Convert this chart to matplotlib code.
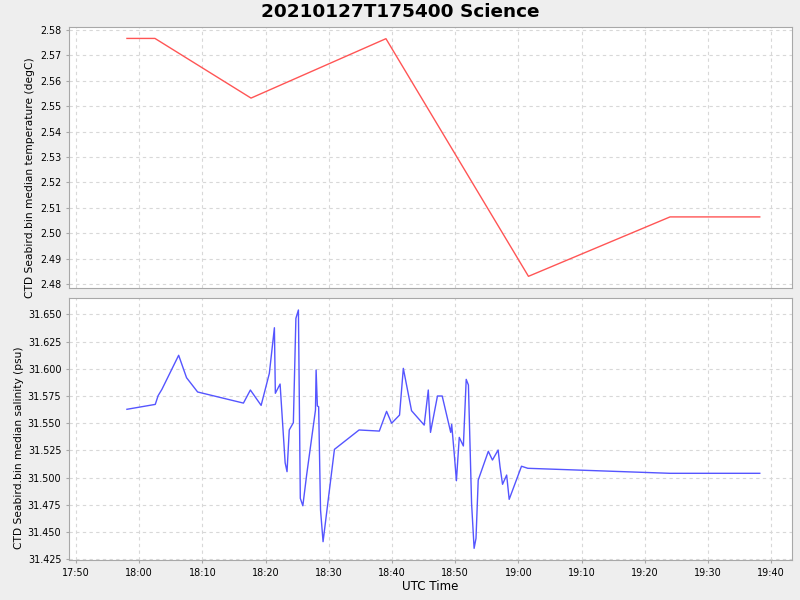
import numpy as np
import pandas as pd
import matplotlib
matplotlib.use("Agg")
import matplotlib.pyplot as plt
import matplotlib.dates as mdates
from matplotlib.ticker import MultipleLocator, FormatStrFormatter

day = "2021-01-27 "

# temperature vertices (UTC time, degC)
temp_time = ["17:58:04", "18:02:30", "18:17:42", "18:39:03", "19:01:36",
             "19:24:00", "19:38:12"]
temp_vals = [2.5767, 2.5767, 2.5532, 2.5766, 2.4830, 2.5064, 2.5064]

# salinity vertices (UTC time, psu)
sal_time = ["17:58:04", "18:02:33", "18:03:00", "18:03:36", "18:06:15", "18:07:30",
            "18:09:15", "18:16:30", "18:17:36", "18:19:18", "18:20:36", "18:21:24",
            "18:21:33", "18:22:18", "18:23:06", "18:23:24", "18:23:45", "18:24:24",
            "18:24:48", "18:25:12", "18:25:30", "18:25:54", "18:26:30", "18:27:54",
            "18:28:00", "18:28:12", "18:28:24", "18:28:42", "18:29:06", "18:30:54",
            "18:34:48", "18:38:00", "18:39:09", "18:39:57", "18:41:12", "18:41:48",
            "18:43:06", "18:45:06", "18:45:45", "18:46:06", "18:47:12", "18:47:57",
            "18:49:18", "18:49:27", "18:49:51", "18:50:12", "18:50:39", "18:51:18",
            "18:51:45", "18:52:06", "18:52:36", "18:53:00", "18:53:18", "18:53:39",
            "18:55:15", "18:55:54", "18:56:48", "18:57:06", "18:57:30", "18:58:09",
            "18:58:33", "19:00:30", "19:01:30", "19:24:00", "19:38:12"]
sal_vals = [31.5628, 31.5673, 31.5753, 31.5811, 31.6124, 31.5918,
            31.5787, 31.5685, 31.5805, 31.5664, 31.5958, 31.6377,
            31.5775, 31.5860, 31.5137, 31.5055, 31.5438, 31.5505,
            31.6463, 31.6540, 31.4810, 31.4742, 31.5024, 31.5621,
            31.5989, 31.5658, 31.5652, 31.4703, 31.4412, 31.5260,
            31.5438, 31.5428, 31.5609, 31.5500, 31.5575, 31.6004,
            31.5615, 31.5483, 31.5805, 31.5416, 31.5750, 31.5750,
            31.5416, 31.5490, 31.5224, 31.4972, 31.5370, 31.5291,
            31.5903, 31.5851, 31.4764, 31.4351, 31.4443, 31.4978,
            31.5242, 31.5162, 31.5254, 31.5100, 31.4939, 31.5024,
            31.4801, 31.5105, 31.5086, 31.5040, 31.5040]

title = "20210127T175400 Science"
temp_label = "CTD Seabird.bin median temperature (degC)"
sal_label = "CTD Seabird.bin median salinity (psu)"

t_temp = pd.to_datetime([day + s for s in temp_time])
t_sal = pd.to_datetime([day + s for s in sal_time])

fig = plt.figure(figsize=(8, 6), dpi=100, facecolor="#EEEEEE")
ax1 = fig.add_axes([0.08625, 0.52, 0.90375, 0.435])
ax2 = fig.add_axes([0.08625, 0.0667, 0.90375, 0.4366], sharex=ax1)

ax1.plot(t_temp, temp_vals, color="#FF5555", lw=1.0)
ax2.plot(t_sal, sal_vals, color="#5555FF", lw=1.0)

for ax in (ax1, ax2):
    ax.set_facecolor("white")
    for sp in ax.spines.values():
        sp.set_color("#A8A8A8")
    ax.grid(True, color="#D8D8D8", linestyle=(0, (3, 3)), linewidth=0.8)
    ax.tick_params(colors="#A8A8A8", labelcolor="black", labelsize=6.9,
                   length=2, width=0.8)

ax1.set_ylim(2.4784, 2.5812)
ax1.yaxis.set_major_locator(MultipleLocator(0.01))
ax1.yaxis.set_major_formatter(FormatStrFormatter("%.2f"))
ax1.set_ylabel(temp_label, fontsize=7.7)
ax1.yaxis.set_label_coords(-0.047, 0.421)
ax1.tick_params(axis="x", labelbottom=False, length=0)

ax2.set_ylim(31.4244, 31.665)
ax2.yaxis.set_major_locator(MultipleLocator(0.025))
ax2.yaxis.set_major_formatter(FormatStrFormatter("%.3f"))
ax2.set_ylabel(sal_label, fontsize=7.7)
ax2.yaxis.set_label_coords(-0.062, 0.429)

ax2.set_xlim(pd.Timestamp(day + "17:48:54"), pd.Timestamp(day + "19:43:18"))
ax2.xaxis.set_major_locator(mdates.MinuteLocator(byminute=range(0, 60, 10)))
ax2.xaxis.set_major_formatter(mdates.DateFormatter("%H:%M"))
ax2.set_xlabel("UTC Time", fontsize=8.6, labelpad=2)

fig.suptitle(title, fontsize=13.3, fontweight="bold", y=0.995)

fig.savefig("out.png", dpi=100, facecolor=fig.get_facecolor())
